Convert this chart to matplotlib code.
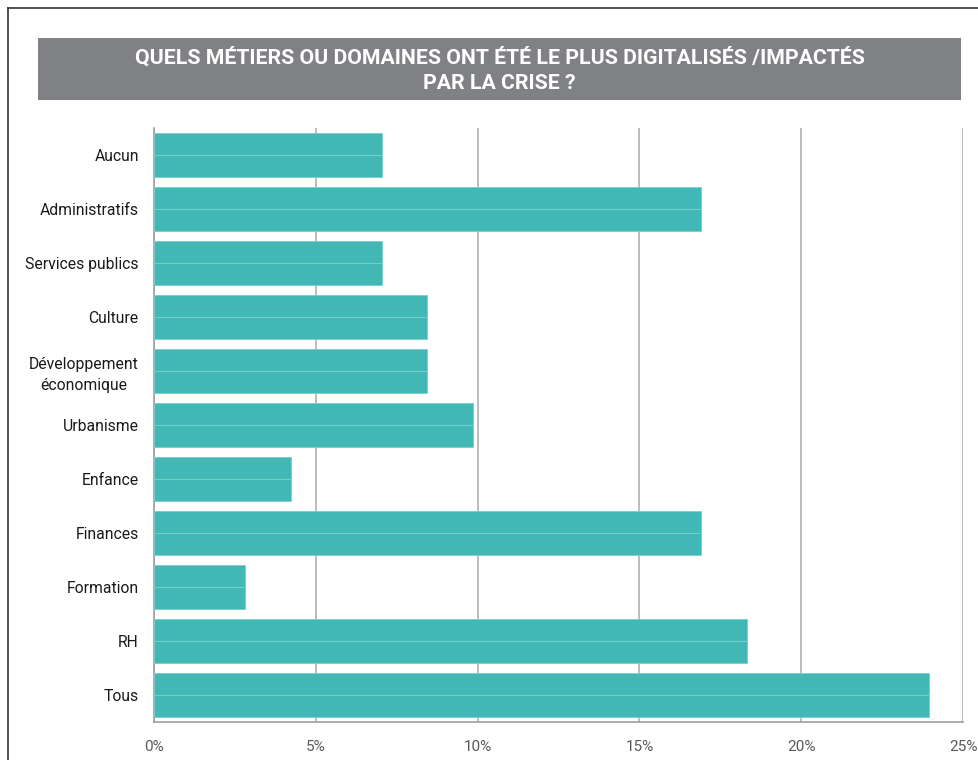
import numpy as np
import matplotlib.pyplot as plt
from matplotlib.patches import Rectangle
from matplotlib.lines import Line2D
from matplotlib.ticker import FuncFormatter

# Données
categories = ['Aucun', 'Administratifs', 'Services publics', 'Culture',
              'Développement\néconomique', 'Urbanisme', 'Enfance', 'Finances',
              'Formation', 'RH', 'Tous']
values = [7.04, 16.90, 7.04, 8.45, 8.45, 9.86, 4.23, 16.90, 2.82, 18.31, 23.94]
title_lines = 'QUELS MÉTIERS OU DOMAINES ONT ÉTÉ LE PLUS DIGITALISÉS /IMPACTÉS\nPAR LA CRISE ?'

plt.rcParams['font.family'] = ['Roboto', 'DejaVu Sans']

bar_color = '#41b8b6'
edge_color = '#7ccfcc'
grid_color = '#bdbdbd'

fig = plt.figure(figsize=(9.79, 7.6), dpi=100)
ax = fig.add_axes([0.1573, 0.05, 0.8264, 0.7816])

y = np.arange(len(categories))
h = 0.81
# deux moitiés pour la fine ligne au milieu de chaque barre
ax.barh(y - h / 4, values, height=h / 2, color=bar_color, edgecolor=edge_color, linewidth=0.6, zorder=3)
ax.barh(y + h / 4, values, height=h / 2, color=bar_color, edgecolor=edge_color, linewidth=0.6, zorder=3)

ax.set_ylim(len(categories) - 0.5, -0.5)
ax.set_xlim(0, 25)
ax.set_xticks([0, 5, 10, 15, 20, 25])
ax.xaxis.set_major_formatter(FuncFormatter(lambda v, p: f'{v:.0f}%'))
ax.set_yticks(y)
ax.set_yticklabels(categories, fontsize=11.3, color='#1a1a1a')
for lab in ax.get_yticklabels():
    lab.set_multialignment('center')
    lab.set_linespacing(1.45)
ax.tick_params(axis='y', length=0, pad=11)
ax.tick_params(axis='x', length=0, pad=13, labelsize=11, labelcolor='#595959')

ax.grid(axis='x', color=grid_color, linewidth=1.4, zorder=0)
for s in ['top', 'right']:
    ax.spines[s].set_visible(False)
for s in ['left', 'bottom']:
    ax.spines[s].set_color('#9e9e9e')
    ax.spines[s].set_linewidth(1.2)

# cadre du titre
fig.add_artist(Rectangle((38 / 979, 1 - 100 / 760), 923 / 979, 62 / 760,
                         transform=fig.transFigure, facecolor='#808184', edgecolor='none'))
fig.text(499.5 / 979, 1 - 70 / 760, title_lines, ha='center', va='center',
         color='white', fontsize=15.3, fontweight='bold', linespacing=1.45)

# bordure
fig.add_artist(Line2D([8 / 979, 1], [1 - 8 / 760, 1 - 8 / 760], transform=fig.transFigure,
                      color='#333333', linewidth=1.2))
fig.add_artist(Line2D([8 / 979, 8 / 979], [0, 1 - 8 / 760], transform=fig.transFigure,
                      color='#333333', linewidth=1.2))

fig.savefig('out.png', dpi=100)
